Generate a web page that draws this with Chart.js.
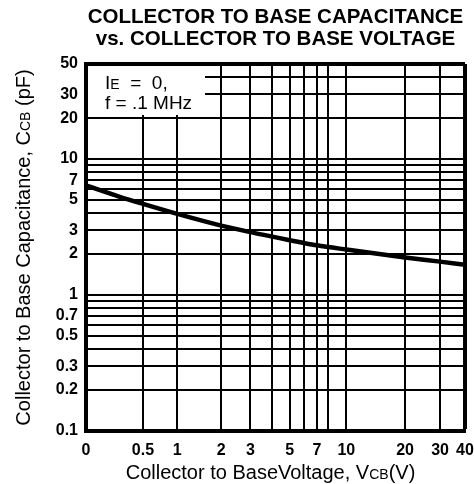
<!DOCTYPE html>
<html>
<head>
<meta charset="utf-8">
<script src="https://cdn.jsdelivr.net/npm/chart.js@4.4.1/dist/chart.umd.min.js"></script>
<style>
  html, body { margin: 0; padding: 0; background: #fff; }
  #wrap { width: 474px; height: 484px; position: relative; }
</style>
</head>
<body>
<div id="wrap"><canvas id="chart"></canvas></div>
<script>
  // curve (Vcb in volts, Ccb in pF)
  const vcbVolts = [0, 0.25, 0.5, 1, 2, 3, 4, 5, 6, 7, 10, 20, 30, 40];
  const ccbPf = [6.4, 5.3, 4.68, 3.95, 3.24, 2.9, 2.69, 2.53, 2.41, 2.32, 2.16, 1.89, 1.76, 1.67];

  // grid lines and the ones that get a number
  const xGrid = [0, 0.5, 1, 2, 3, 4, 5, 6, 7, 8, 10, 20, 30, 40];
  const xLabels = [0, 0.5, 1, 2, 3, 5, 7, 10, 20, 30, 40];
  const yGrid = [0.1, 0.2, 0.3, 0.4, 0.5, 0.6, 0.7, 0.8, 0.9, 1, 2, 3, 4, 5, 6, 7, 8, 9, 10, 20, 30, 40, 50];
  const yLabels = [0.1, 0.2, 0.3, 0.5, 0.7, 1, 2, 3, 5, 7, 10, 20, 30, 50];

  const titleLines = ['COLLECTOR TO BASE CAPACITANCE', 'vs. COLLECTOR TO BASE VOLTAGE'];

  // the voltage axis is not a plain log axis: it behaves like log(V + 0.55),
  // which is how 0 ends up sitting on the left edge
  const X_OFFSET = 0.55;

  const FONT = '"Liberation Sans", Arial, Helvetica, sans-serif';

  // draws text made of [text, isSmall] parts, small parts are the subscripts
  function drawRich(ctx, parts, x, y, align, size) {
    const fontFor = small => (small ? Math.round(size * 0.72) : size) + 'px ' + FONT;
    let total = 0;
    parts.forEach(p => { ctx.font = fontFor(p[1]); total += ctx.measureText(p[0]).width; });
    let cx = align === 'center' ? x - total / 2 : x;
    ctx.textAlign = 'left';
    ctx.textBaseline = 'alphabetic';
    parts.forEach(p => {
      ctx.font = fontFor(p[1]);
      ctx.fillText(p[0], cx, y);
      cx += ctx.measureText(p[0]).width;
    });
  }

  const annotations = {
    id: 'annotations',
    beforeDatasetsDraw(chart) {
      const {ctx, chartArea: a} = chart;
      ctx.save();
      // note box covers the grid in the top left corner
      ctx.fillStyle = '#fff';
      ctx.fillRect(a.left + 2, a.top + 2, 117, 49);
      ctx.fillStyle = '#000';
      drawRich(ctx, [['I', false], ['E', true], ['  =  0,', false]], a.left + 19, a.top + 25, 'left', 19);
      drawRich(ctx, [['f = .1 MHz', false]], a.left + 19, a.top + 45, 'left', 19);
      ctx.restore();
    },
    afterDraw(chart) {
      const {ctx, chartArea: a} = chart;
      const midX = (a.left + a.right) / 2;
      ctx.save();
      ctx.fillStyle = '#000';
      ctx.textAlign = 'center';
      ctx.textBaseline = 'alphabetic';
      ctx.font = 'bold 20.5px ' + FONT;
      ctx.fillText(titleLines[0], midX, 23);
      ctx.fillText(titleLines[1], midX, 45);

      drawRich(ctx, [['Collector to BaseVoltage, V', false], ['CB', true], ['(V)', false]],
        midX - 5, 479, 'center', 20);

      ctx.translate(30, (a.top + a.bottom) / 2);
      ctx.rotate(-Math.PI / 2);
      drawRich(ctx, [['Collector to Base Capacitance, C', false], ['CB', true], [' (pF)', false]],
        0, 0, 'center', 20);
      ctx.restore();
    }
  };

  const points = vcbVolts.map((v, i) => ({x: v + X_OFFSET, y: ccbPf[i]}));

  new Chart(document.getElementById('chart'), {
    type: 'line',
    data: {
      datasets: [{
        data: points,
        borderColor: '#000',
        borderWidth: 4.5,
        pointRadius: 0,
        cubicInterpolationMode: 'monotone',
        fill: false,
      }],
    },
    options: {
      responsive: true,
      maintainAspectRatio: false,
      animation: false,
      layout: { padding: { top: 64, right: 9, left: 36, bottom: 29 } },
      plugins: {
        legend: { display: false },
        tooltip: { enabled: false },
      },
      scales: {
        x: {
          type: 'logarithmic',
          min: xGrid[0] + X_OFFSET,
          max: xGrid[xGrid.length - 1] + X_OFFSET,
          afterBuildTicks: scale => {
            scale.ticks = xGrid.map(v => ({ value: v + X_OFFSET }));
          },
          afterFit: scale => {
            scale.height = 24;
            scale.paddingLeft = 0;
            scale.paddingRight = 0;
          },
          ticks: {
            autoSkip: false,
            maxRotation: 0,
            padding: 10,
            color: '#000',
            font: { family: FONT, size: 16, weight: 'bold' },
            callback: value => {
              const v = +(value - X_OFFSET).toFixed(2);
              return xLabels.includes(v) ? String(v) : '';
            },
          },
          grid: {
            color: '#000',
            drawTicks: false,
            lineWidth: c => (c.tick && Math.abs(c.tick.value - (40 + X_OFFSET)) < 1e-6 ? 4 : 2),
          },
          border: { display: true, color: '#000', width: 4 },
        },
        y: {
          type: 'logarithmic',
          min: yGrid[0],
          max: yGrid[yGrid.length - 1],
          afterBuildTicks: scale => {
            scale.ticks = yGrid.map(v => ({ value: v }));
          },
          afterFit: scale => {
            scale.width = 50;
            scale.paddingTop = 0;
            scale.paddingBottom = 0;
          },
          ticks: {
            autoSkip: false,
            padding: 8,
            color: '#000',
            font: { family: FONT, size: 16, weight: 'bold' },
            callback: value => (yLabels.includes(value) ? String(value) : ''),
          },
          grid: {
            color: '#000',
            drawTicks: false,
            lineWidth: c => (c.tick && c.tick.value === 50 ? 4 : 2),
          },
          border: { display: true, color: '#000', width: 4 },
        },
      },
    },
    plugins: [annotations],
  });
</script>
</body>
</html>
